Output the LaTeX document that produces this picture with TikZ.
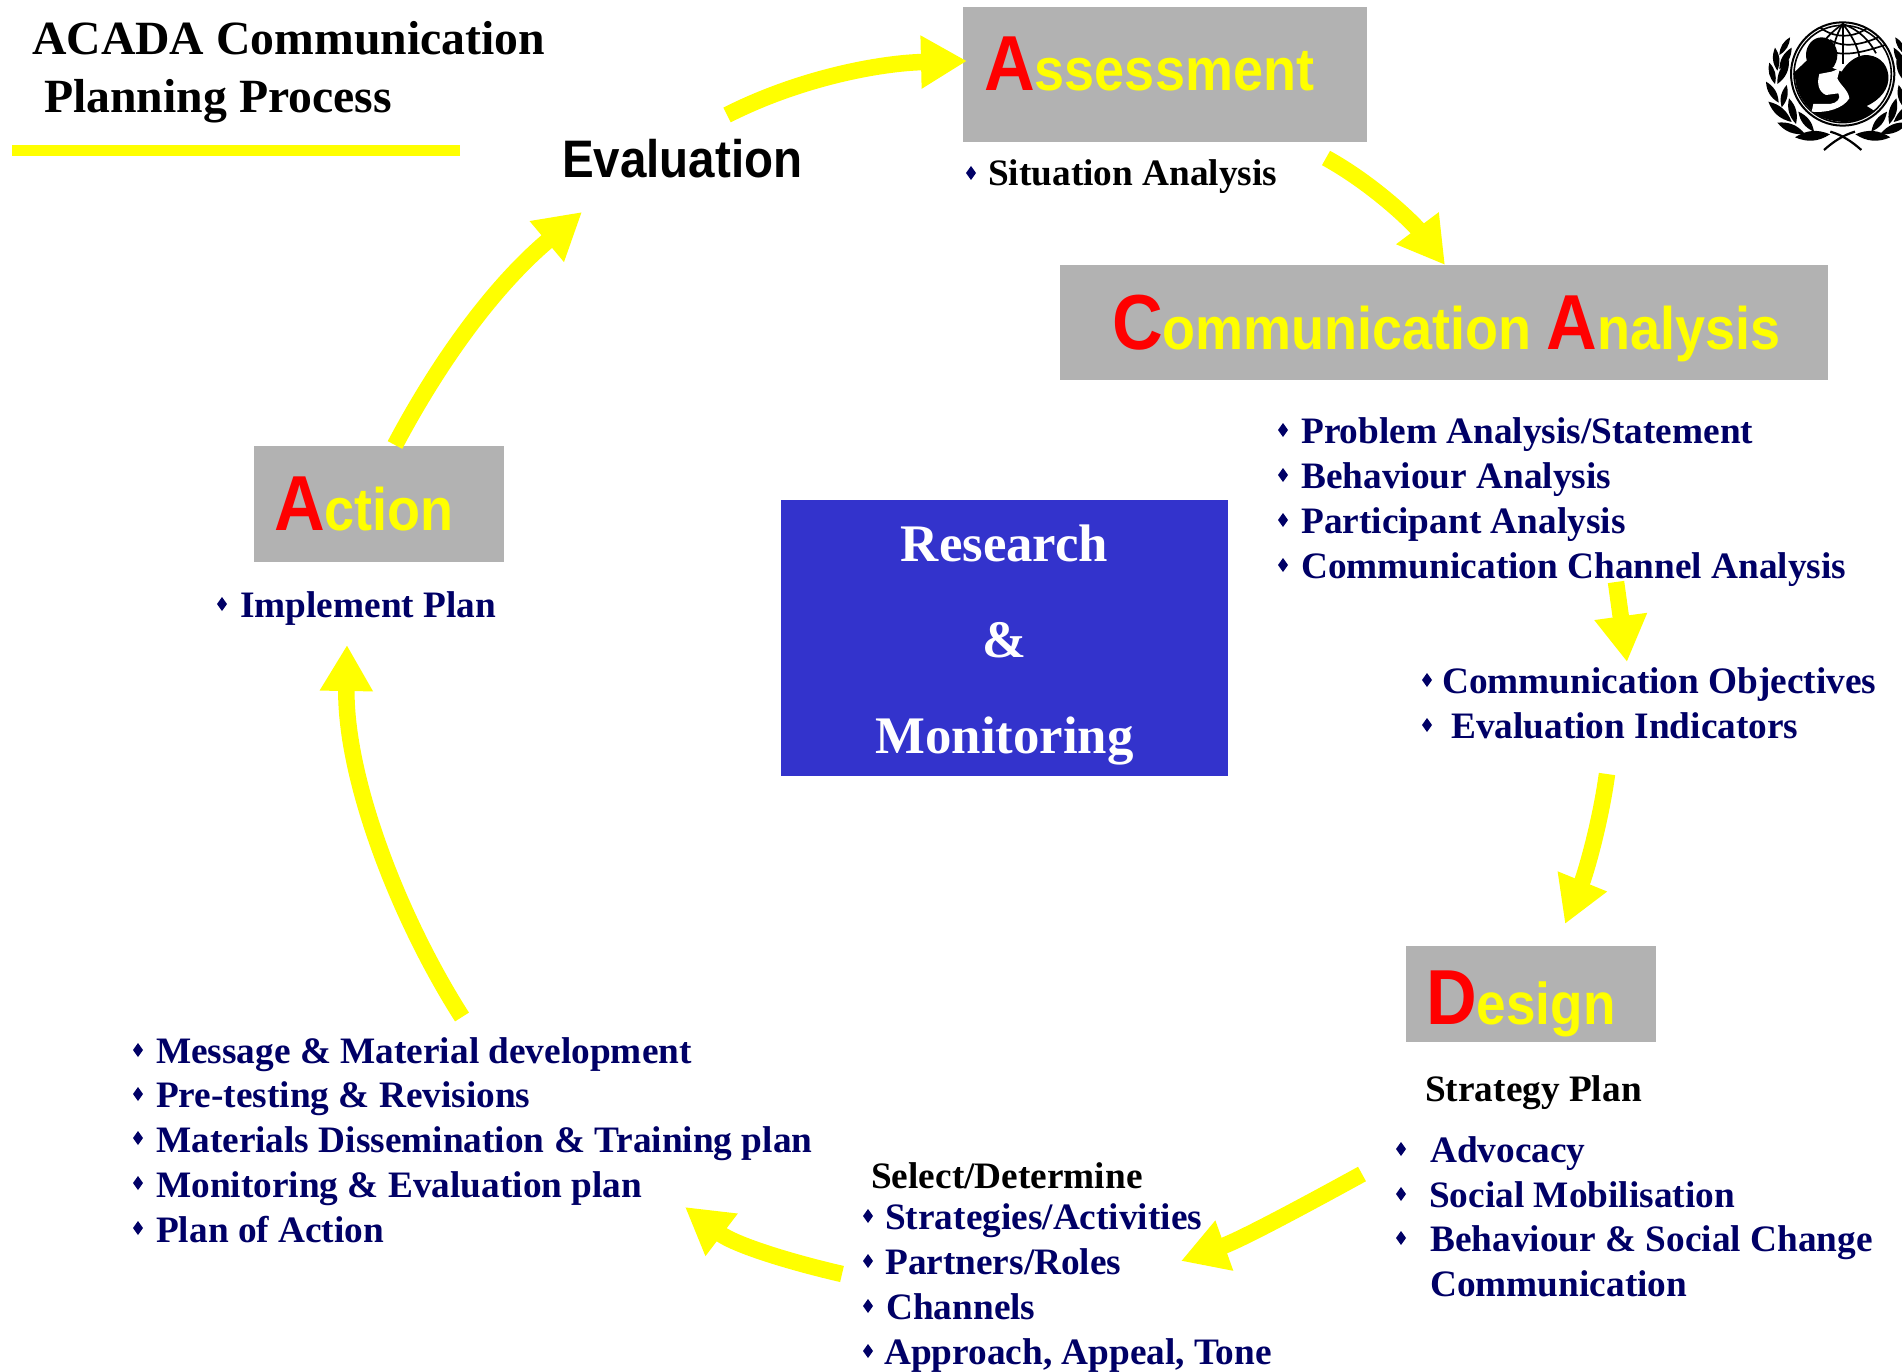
\documentclass[tikz,border=0pt]{standalone}
\usepackage{fontspec}
\setmainfont{Liberation Serif}
\newfontfamily\arb[FakeStretch=0.9]{Liberation Sans}
\usetikzlibrary{arrows.meta}
\definecolor{navy}{HTML}{000066}
\definecolor{boxgrey}{HTML}{B2B2B2}
\definecolor{rmblue}{HTML}{3333CC}
\definecolor{pureyellow}{HTML}{FFFF00}
\definecolor{purered}{HTML}{FF0000}
\tikzset{
 txt/.style={anchor=base west,inner sep=0pt,font=\fontsize{37.3}{37.3}\selectfont\bfseries,text=navy},
 blk/.style={txt,text=black},
 head/.style={txt,text=pureyellow},
 greybox/.style={fill=boxgrey,draw=none},
 flow/.style={draw=pureyellow,line width=16.5pt,-{Triangle[length=46pt,width=50pt]}},
}
\newcommand\bulat[2]{\fill[navy] (#1-5,#2-14) -- (#1,#2-21) -- (#1+5,#2-14) -- (#1,#2-7) -- cycle;}
\newcommand\Lf[2]{\fill (#1) to[bend left=28] (#2) to[bend left=28] (#1);}
\newcommand\bigA[1]{{\color{purered}\fontsize{78}{78}\selectfont #1}}
\begin{document}
\begin{tikzpicture}[x=1pt,y=-1pt]
\useasboundingbox (0,0) rectangle (1902,1372);
% title
\node[blk,font=\fontsize{47.7}{47.7}\selectfont\bfseries] (t1) at (32,55) {ACADA Communication};
\node[blk,font=\fontsize{47.7}{47.7}\selectfont\bfseries] (t2) at (44,113) {Planning Process};
\fill[pureyellow] (12,145) rectangle (460,156);
% boxes
\path[greybox] (963,7) rectangle (1367,142);
\path[greybox] (1060,265) rectangle (1828,380);
\path[greybox] (254,446) rectangle (504,562);
\path[greybox] (1406,946) rectangle (1656,1042);
\path[fill=rmblue] (781,500) rectangle (1228,776);
% headings
\node[head,font=\arb\bfseries\fontsize{60}{60}\selectfont] (hA) at (984,91) {\bigA{A}ssessment};
\node[head,font=\arb\bfseries\fontsize{60}{60}\selectfont] (hC) at (1112,349) {\bigA{C}ommunication \bigA{A}nalysis};
\node[head,font=\arb\bfseries\fontsize{60}{60}\selectfont] (hAc) at (274,530) {\bigA{A}ction};
\node[head,font=\arb\bfseries\fontsize{59}{59}\selectfont] (hD) at (1426,1024) {\bigA{D}esign};
\node[blk,font=\arb\bfseries\fontsize{52.8}{52.8}\selectfont] (ev) at (562,178) {Evaluation};
% research
\foreach \n/\y/\s in {r1/561/Research,r2/657/\&,r3/753/Monitoring}
  \node[anchor=base,inner sep=0pt,text=white,font=\fontsize{52.8}{52.8}\selectfont\bfseries] (\n) at (1004.5,\y) {\s};
% bullets
\foreach \x/\y in {971/187,1283/444,1283/489,1283/534,1283/579,1427/694,1427/739,222/618,
  138/1064,138/1108,138/1152,138/1197,138/1242,868/1230,868/1275,868/1320,868/1365,
  1401/1163,1401/1208,1401/1252} {\bulat{\x}{\y}}
% lists
\node[blk] (s1) at (988,186) {Situation Analysis};
\node[txt] (c1) at (1301,443) {Problem Analysis/Statement};
\node[txt] (c2) at (1301,488) {Behaviour Analysis};
\node[txt] (c3) at (1301,533) {Participant Analysis};
\node[txt] (c4) at (1301,578) {Communication Channel Analysis};
\node[txt] (o1) at (1442,693) {Communication Objectives};
\node[txt] (o2) at (1451,738) {Evaluation Indicators};
\node[txt] (i1) at (240,617) {Implement Plan};
\node[txt] (m1) at (156,1063) {Message \& Material development};
\node[txt] (m2) at (156,1107) {Pre-testing \& Revisions};
\node[txt] (m3) at (156,1152) {Materials Dissemination \& Training plan};
\node[txt] (m4) at (156,1197) {Monitoring \& Evaluation plan};
\node[txt] (m5) at (156,1242) {Plan of Action};
\node[blk] (sd) at (871,1188) {Select/Determine};
\node[txt] (d1) at (885,1229) {Strategies/Activities};
\node[txt] (d2) at (885,1274) {Partners/Roles};
\node[txt] (d3) at (886,1319) {Channels};
\node[txt] (d4) at (884,1364) {Approach, Appeal, Tone};
\node[blk] (sp) at (1425,1101) {Strategy Plan};
\node[txt] (p1) at (1430,1162) {Advocacy};
\node[txt] (p2) at (1429,1207) {Social Mobilisation};
\node[txt] (p3) at (1430,1251) {Behaviour \& Social Change};
\node[txt] (p4) at (1430,1296) {Communication};
% connectors
\coordinate (e0) at (727,115); \coordinate (e1) at (967,61);
\coordinate (a0) at (1326,158); \coordinate (a1) at (1445,265);
\coordinate (b0) at (1616,582); \coordinate (b1) at (1627,662);
\coordinate (f0) at (1607,774); \coordinate (f1) at (1565,924);
\coordinate (g0) at (1362,1174); \coordinate (g1) at (1181,1261);
\coordinate (h0) at (842,1274); \coordinate (h1) at (685,1207);
\coordinate (j0) at (462,1017); \coordinate (j1) at (347,645);
\coordinate (k0) at (395,445); \coordinate (k1) at (582,212);
\draw[flow] (e0) .. controls (800,78) and (880,63) .. (e1);
\draw[flow] (a0) .. controls (1375,185) and (1415,225) .. (a1);
\draw[flow] (b0) -- (b1);
\draw[flow] (f0) .. controls (1600,825) and (1585,875) .. (f1);
\draw[flow] (g0) .. controls (1300,1208) and (1240,1240) .. (g1);
\draw[flow] (h0) .. controls (790,1262) and (735,1245) .. (h1);
\draw[flow] (j0) .. controls (400,920) and (345,780) .. (j1);
\draw[flow] (k0) .. controls (440,360) and (495,285) .. (k1);
% logo
\begin{scope}[shift={(1720,0)},x=0.3333pt,y=-0.3333pt]
\clip (0,0) rectangle (546,510);
\draw[line width=2pt] (368,222) circle (155);
\draw[line width=1.6pt] (368,222) circle (146);
% globe
\begin{scope}[line width=1.7pt]
\clip (368,222) circle (155);
\draw (368,70) -- (368,192);
\draw (368,72) .. controls (330,100) and (310,120) .. (300,150);
\draw (368,72) .. controls (345,110) and (335,150) .. (340,200);
\draw (368,72) .. controls (400,110) and (415,150) .. (418,170);
\draw (368,72) .. controls (420,90) and (450,125) .. (468,160);
\draw (300,82) .. controls (340,115) and (400,115) .. (440,85);
\draw (330,120) .. controls (370,145) and (430,135) .. (490,105);
\draw (345,158) .. controls (380,165) and (420,160) .. (495,135);
\end{scope}
% silhouette
\fill (305,165) ellipse (47 and 53);
\fill (262,180) -- (225,215) .. controls (222,270) and (250,320) .. (300,350)
  .. controls (350,372) and (420,375) .. (462,332) -- (440,318)
  .. controls (480,300) and (510,265) .. (505,225) .. controls (500,185) and (470,165) .. (435,165)
  .. controls (405,168) and (380,190) .. (365,215) -- (340,205) -- cycle;
\fill[white] (298,222) .. controls (290,250) and (295,275) .. (318,285) -- (355,280)
  .. controls (365,295) and (350,310) .. (330,312) -- (280,312) -- (275,335)
  .. controls (320,340) and (370,325) .. (388,295) .. controls (385,270) and (360,255) .. (352,235)
  -- (360,205) -- (335,215) -- cycle;
% wreath
\foreach \s in {1,-1}{
 \begin{scope}[shift={(368,0)},xscale=\s,shift={(-368,0)}]
 \Lf{210,112}{178,165}
 \Lf{165,143}{172,212}
 \Lf{215,143}{178,208}
 \Lf{148,188}{165,252}
 \Lf{207,180}{172,252}
 \Lf{138,245}{176,308}
 \Lf{200,255}{185,322}
 \Lf{145,305}{215,366}
 \Lf{207,295}{228,372}
 \Lf{172,368}{255,402}
 \Lf{235,335}{282,395}
 \Lf{225,412}{330,403}
 \draw[line width=2.2pt] (312,450) .. controls (340,425) and (370,405) .. (405,395);
 \end{scope}}
\end{scope}
\end{tikzpicture}
\end{document}
